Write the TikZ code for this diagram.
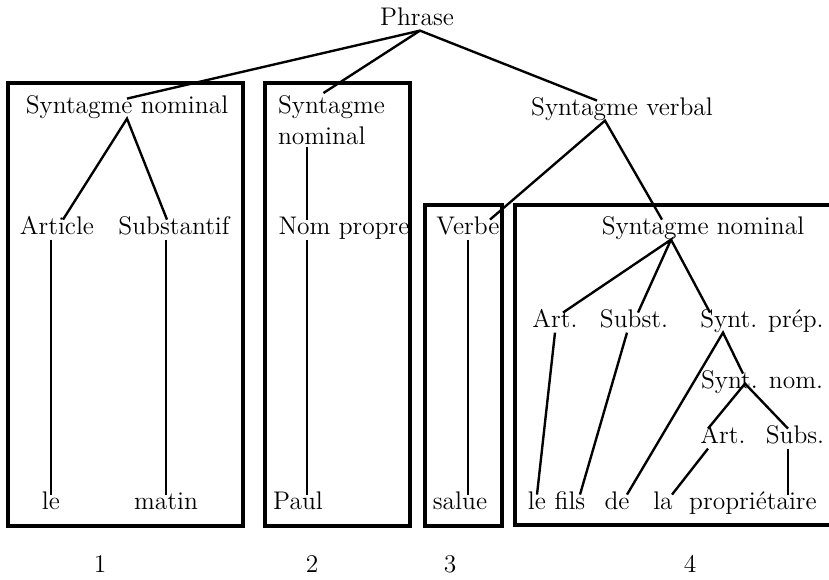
\documentclass[tikz,border=0pt]{standalone}
\usepackage{tikz}
\usetikzlibrary{positioning, calc}
\tikzset{
  lbl/.style={anchor=base, inner sep=1pt, text height=0.7em, text depth=0.2em,
    font=\fontsize{14.5}{18}\selectfont},
  branch/.style={line width=1.35pt, color=black},
  frame/.style={line width=2.7pt, color=black},
  numlbl/.style={anchor=base, inner sep=1pt, font=\fontsize{14.5}{18}\selectfont}
}

\begin{document}
\begin{tikzpicture}[x=0.02cm, y=-0.02cm]
  \useasboundingbox (0,0) rectangle (829,579);

  % tree labels
  \node[lbl] (phrase) at (417,25) {Phrase};
  \node[lbl] (sna) at (127,113) {Syntagme nominal};
  \node[lbl, anchor=north west, align=left, text height=, text depth=] (snb) at (276,93) {Syntagme\\nominal};
  \node[lbl] (sv) at (622,115) {Syntagme verbal};
  \node[lbl] (art) at (57,234) {Article};
  \node[lbl] (subst) at (174,234) {Substantif};
  \node[lbl] (nomp) at (344,234) {Nom propre};
  \node[lbl] (verbe) at (468,234) {Verbe};
  \node[lbl] (snc) at (703,234) {Syntagme nominal};
  \node[lbl] (arta) at (555,327) {Art.};
  \node[lbl] (substb) at (634,327) {Subst.};
  \node[lbl] (sprep) at (762,327) {Synt. prép.};
  \node[lbl] (snom) at (762,388) {Synt. nom.};
  \node[lbl] (artb) at (723,443) {Art.};
  \node[lbl] (subs) at (795,443) {Subs.};

  % words
  \node[lbl] (le) at (51,509) {le};
  \node[lbl] (matin) at (166,509) {matin};
  \node[lbl] (paul) at (298,509) {Paul};
  \node[lbl] (salue) at (460,509) {salue};
  \node[lbl] (leb) at (537,509) {le};
  \node[lbl] (fils) at (570,509) {fils};
  \node[lbl] (de) at (617,509) {de};
  \node[lbl] (la) at (663,509) {la};
  \node[lbl] (prop) at (753,509) {propriétaire};

  % numbers
  \node[numlbl] (num1) at (100,572) {1};
  \node[numlbl] (num2) at (312,572) {2};
  \node[numlbl] (num3) at (450,572) {3};
  \node[numlbl] (num4) at (690,572) {4};

  % branches
  \draw[branch] (sna.north) -- ([xshift=0.06cm]phrase.south) -- ([xshift=-0.5cm]sv.north);
  \draw[branch] ([xshift=0.06cm]phrase.south) -- ([xshift=-0.16cm]snb.north);
  \draw[branch] ([xshift=0.12cm]art.north) -- (sna.south) -- ([xshift=-0.14cm]subst.north);
  \draw[branch] (le.north |- art.south) -- (le.north);
  \draw[branch] (matin.north |- subst.south) -- (matin.north);
  \draw[branch] ([xshift=0.18cm]paul.north |- snb.south) -- ([xshift=0.18cm]paul.north |- nomp.north);
  \draw[branch] ([xshift=0.18cm]paul.north |- nomp.south) -- ([xshift=0.18cm]paul.north);
  \draw[branch] ([xshift=0.44cm]verbe.north) -- ([xshift=-0.34cm]sv.south) -- ([xshift=-0.82cm]snc.north);
  \draw[branch] (verbe.south) -- (verbe.south |- salue.north);
  \draw[branch] ([xshift=0.16cm]arta.north) -- ([xshift=-0.64cm]snc.south) -- ([xshift=0.08cm]substb.north);
  \draw[branch] ([xshift=-0.64cm]snc.south) -- ([xshift=-1.04cm]sprep.north);
  \draw[branch] (arta.south) -- (leb.north);
  \draw[branch] ([xshift=-0.14cm]substb.south) -- ([xshift=0.2cm]fils.north);
  \draw[branch] ([xshift=0.2cm]de.north) -- ([xshift=-0.78cm]sprep.south) -- ([xshift=-0.38cm]snom.north);
  \draw[branch] ([xshift=-0.3cm]artb.north) -- ([xshift=-0.34cm]snom.center) -- ([xshift=-0.14cm]subs.north);
  \draw[branch] ([xshift=-0.3cm]artb.south) -- ([xshift=0.18cm]la.north);
  \draw[branch] ([xshift=-0.14cm]subs.south) -- ([xshift=-0.14cm]subs.south |- prop.north);

  % frames
  \draw[frame] (8,83) rectangle (243,526);
  \draw[frame] (265,83) rectangle (410,526);
  \draw[frame] (425,205) rectangle (502,526);
  \draw[frame] (835,205) -| (515,525) -- (835,525);
\end{tikzpicture}
\end{document}
